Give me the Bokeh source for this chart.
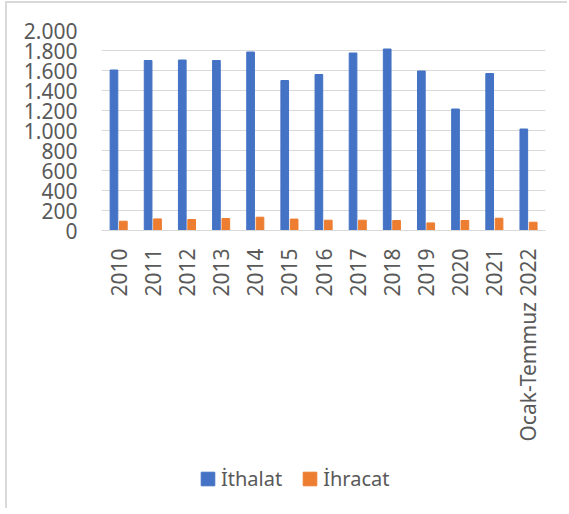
from bokeh.plotting import figure
from bokeh.models import FactorRange, Range1d, FixedTicker, Legend, LegendItem, ColumnDataSource
from bokeh.layouts import column
from bokeh.transform import dodge
from bokeh.embed import file_html
from bokeh.resources import INLINE
from math import pi

years = ["2010", "2011", "2012", "2013", "2014", "2015", "2016", "2017",
         "2018", "2019", "2020", "2021", "Ocak-Temmuz 2022"]
ithalat = [1605, 1700, 1705, 1700, 1785, 1500, 1560, 1775, 1815, 1595, 1215, 1570, 1015]
ihracat = [93, 116, 110, 120, 133, 114, 103, 103, 100, 76, 100, 123, 83]
y_ticks = [0, 200, 400, 600, 800, 1000, 1200, 1400, 1600, 1800, 2000]
y_tick_labels = ["0", "200", "400", "600", "800", "1.000", "1.200", "1.400",
                 "1.600", "1.800", "2.000"]
series_names = ["İthalat", "İhracat"]
series_colors = ["#4472C4", "#ED7D31"]

src = ColumnDataSource(dict(year=years, ithalat=ithalat, ihracat=ihracat))

TXT = "#595959"
FONT = "Noto Sans"

xr = FactorRange(factors=years, range_padding=0)

p = figure(width=560, height=460, output_backend="svg", toolbar_location=None,
           x_range=xr, y_range=Range1d(0, 2000),
           min_border_left=94, min_border_right=22, min_border_top=27,
           min_border_bottom=233)
p.outline_line_color = None
p.background_fill_color = "white"
p.border_fill_color = "white"

p.vbar(x=dodge("year", -0.135, range=xr), top="ithalat", width=0.225,
       source=src, color=series_colors[0])
p.vbar(x=dodge("year", 0.14, range=xr), top="ihracat", width=0.225,
       source=src, color=series_colors[1])

p.xgrid.grid_line_color = None
p.ygrid.grid_line_color = "#d9d9d9"
p.ygrid.grid_line_width = 1

p.yaxis.ticker = FixedTicker(ticks=y_ticks)
p.yaxis.major_label_overrides = {t: l for t, l in zip(y_ticks, y_tick_labels)}
p.yaxis.axis_line_color = None
p.yaxis.major_tick_line_color = None
p.yaxis.minor_tick_line_color = None
p.yaxis.major_label_standoff = 18
p.yaxis.major_label_text_font = FONT
p.yaxis.major_label_text_font_size = "21px"
p.yaxis.major_label_text_color = TXT

p.xaxis.axis_line_color = "#d9d9d9"
p.xaxis.major_tick_line_color = None
p.xaxis.major_label_orientation = pi / 2
p.xaxis.major_label_standoff = 12
p.xaxis.major_label_text_font = FONT
p.xaxis.major_label_text_font_size = "21px"
p.xaxis.major_label_text_color = TXT

# legend strip: same series, drawn outside its visible y-range (only the legend shows)
q = figure(width=560, height=45, output_backend="svg", toolbar_location=None,
           x_range=xr, y_range=Range1d(5000, 6000),
           x_axis_location=None, y_axis_location=None,
           min_border_left=0, min_border_right=0, min_border_top=0,
           min_border_bottom=0)
q.outline_line_color = None
q.xgrid.grid_line_color = None
q.ygrid.grid_line_color = None
q.background_fill_color = "white"
q.border_fill_color = "white"
l1 = q.vbar(x=dodge("year", -0.135, range=xr), top="ithalat", width=0.225,
            source=src, color=series_colors[0])
l2 = q.vbar(x=dodge("year", 0.14, range=xr), top="ihracat", width=0.225,
            source=src, color=series_colors[1])

legend = Legend(items=[LegendItem(label=series_names[0], renderers=[l1]),
                       LegendItem(label=series_names[1], renderers=[l2])],
                orientation="horizontal", location=(98, 16),
                glyph_width=17, glyph_height=17, label_standoff=5, spacing=19,
                padding=0, margin=0, border_line_color=None,
                background_fill_alpha=0,
                label_text_font=FONT, label_text_font_size="20px",
                label_text_color=TXT)
q.add_layout(legend)

layout = column(p, q, spacing=0,
                styles={"margin-left": "5px", "margin-top": "1px",
                        "border-left": "2px solid #d9d9d9",
                        "border-top": "2px solid #d9d9d9"})

open("out.html", "w").write(file_html(layout, INLINE))
